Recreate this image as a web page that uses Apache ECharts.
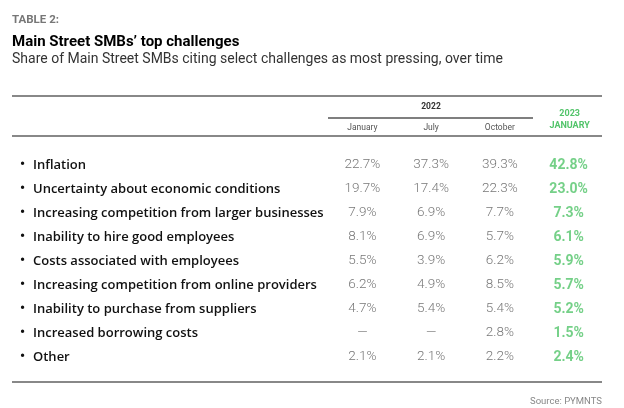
<!DOCTYPE html>
<html><head><meta charset="utf-8">
<script src="https://cdn.jsdelivr.net/npm/echarts@6/dist/echarts.min.js"></script>
<style>html,body{margin:0;padding:0;background:#fff}#c{width:624px;height:408px}</style>
</head><body><div id="c"></div>
<script>
const challenges = ['Inflation','Uncertainty about economic conditions','Increasing competition from larger businesses','Inability to hire good employees','Costs associated with employees','Increasing competition from online providers','Inability to purchase from suppliers','Increased borrowing costs','Other'];
const periods = ['January','July','October','2023\nJANUARY'];
const jan2022 = [22.7,19.7,7.9,8.1,5.5,6.2,4.7,null,2.1];
const jul2022 = [37.3,17.4,6.9,6.9,3.9,4.9,5.4,null,2.1];
const oct2022 = [39.3,22.3,7.7,5.7,6.2,8.5,5.4,2.8,2.2];
const jan2023 = [42.8,23.0,7.3,6.1,5.9,5.7,5.2,1.5,2.4];

const GREEN = '#52c46a';
const FONT = 'Roboto';
const cols = [jan2022, jul2022, oct2022, jan2023];
const series = cols.map((arr, ci) => ({
  type: 'scatter',
  symbolSize: 0,
  silent: true,
  data: arr.map((v, ri) => [ci, ri, v]),
  label: {
    show: true, position: 'inside',
    formatter: p => p.value[2] == null ? '—' : p.value[2].toFixed(1) + '%',
    fontFamily: FONT,
    fontSize: ci === 3 ? 14 : 13.5,
    fontWeight: ci === 3 ? 'bold' : 300,
    color: ci === 3 ? GREEN : '#555'
  }
}));

const chart = echarts.init(document.getElementById('c'), null, {renderer: 'canvas'});
chart.setOption({
  animation: false,
  grid: {left: 328, width: 275, top: 153, height: 216},
  xAxis: {
    type: 'category', position: 'top', data: periods,
    axisLine: {show: false}, axisTick: {show: false},
    axisLabel: {
      margin: 21, interval: 0, hideOverlap: false,
      formatter: (v, i) => i === 3 ? '{g|' + v.split('\n')[0] + '}\n{g|' + v.split('\n')[1] + '}' : '{m|' + v + '}',
      rich: {
        m: {fontFamily: FONT, fontSize: 8.5, color: '#555'},
        g: {fontFamily: FONT, fontSize: 9, fontWeight: 'bold', color: GREEN, lineHeight: 12, align: 'center', padding: [0, 0, 0, 2]}
      }
    }
  },
  yAxis: {
    type: 'category', inverse: true, data: challenges,
    axisLine: {show: false}, axisTick: {show: false},
    axisLabel: {
      margin: 308, align: 'left', interval: 0,
      formatter: v => '{b|•}{n|' + v + '}',
      rich: {
        b: {fontFamily: FONT, fontSize: 14, fontWeight: 'bold', color: '#111', width: 13},
        n: {fontFamily: 'Open Sans', fontSize: 13, fontWeight: 600, color: '#111'}
      }
    }
  },
  series: series,
  graphic: [
    {type: 'text', left: 12, top: 14, style: {text: 'TABLE 2:', fontFamily: FONT, fontSize: 11.5, fontWeight: 'bold', fill: '#777'}},
    {type: 'text', left: 12, top: 35, style: {text: 'Main Street SMBs’ top challenges', fontFamily: FONT, fontSize: 15, fontWeight: 'bold', fill: '#000'}},
    {type: 'text', left: 12, top: 52, style: {text: 'Share of Main Street SMBs citing select challenges as most pressing, over time', fontFamily: FONT, fontSize: 14, fill: '#333'}},
    {type: 'line', shape: {x1: 12, y1: 96, x2: 602, y2: 96}, style: {stroke: '#888', lineWidth: 2}},
    {type: 'text', x: 431, y: 107, style: {text: '2022', fontFamily: FONT, fontSize: 8.5, fontWeight: 'bold', fill: '#333', align: 'center', verticalAlign: 'middle'}},
    {type: 'line', shape: {x1: 328, y1: 118, x2: 533, y2: 118}, style: {stroke: '#555', lineWidth: 1.5}},
    {type: 'line', shape: {x1: 12, y1: 136, x2: 602, y2: 136}, style: {stroke: '#888', lineWidth: 2}},
    {type: 'line', shape: {x1: 12, y1: 382, x2: 602, y2: 382}, style: {stroke: '#888', lineWidth: 2}},
    {type: 'text', right: 22, top: 397, style: {text: 'Source: PYMNTS', fontFamily: FONT, fontSize: 9.5, fill: '#888', letterSpacing: 0.3}}
  ]
});
</script></body></html>
